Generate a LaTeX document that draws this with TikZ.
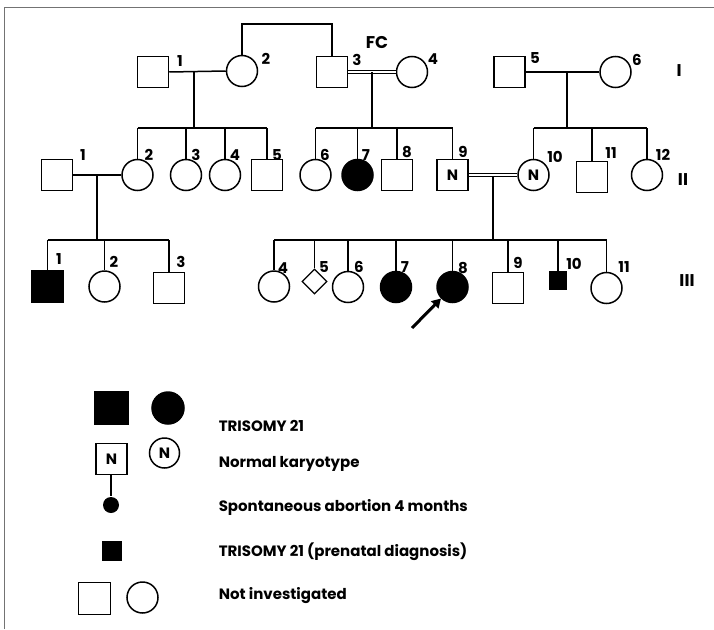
\documentclass[tikz,border=0pt]{standalone}
\usepackage{fontspec}
\setmainfont{Poppins}
\usetikzlibrary{arrows.meta,shapes.geometric}
\begin{document}
\begin{tikzpicture}[x=1pt,y=-1pt,line width=1.5pt,
  sq/.style={draw,rectangle,minimum size=31pt,inner sep=0pt},
  ci/.style={draw,circle,minimum size=31pt,inner sep=0pt},
  aff/.style={fill=black},
  smallsq/.style={draw,fill=black,rectangle,minimum size=17pt,inner sep=0pt},
  dia/.style={draw,diamond,minimum size=25pt,inner sep=0pt,line width=1.2pt},
  nlab/.style={font=\bfseries\fontsize{15}{15}\selectfont},
  lab/.style={font=\bfseries\fontsize{15}{15}\selectfont,inner sep=0pt},
  gen/.style={font=\bfseries\fontsize{17}{17}\selectfont,inner sep=0pt},
  leg/.style={font=\bfseries\fontsize{15}{15}\selectfont,inner sep=0pt,anchor=west},
  dbl/.style={double,double distance=2pt,line width=1pt},
  frame/.style={draw=black!55,line width=1pt},
  pointer/.style={line width=3pt,-{Triangle[length=9pt,width=10pt]}}]
\useasboundingbox (0,0) rectangle (714,629);
\coordinate (fbl) at (4,629);
\coordinate (ftl) at (4,7);
\coordinate (ftr) at (714,7);
\draw[frame] (fbl) -- (ftl) -- (ftr);

% ---------- Generation I
\node[sq] (I1) at (153,72) {};
\node[ci] (I2) at (242,71) {};
\node[sq] (I3) at (332,72) {};
\node[ci] (I4) at (412,72) {};
\node[sq] (I5) at (509.5,72) {};
\node[ci] (I6) at (615.5,72) {};
\node[lab] (tI1) at (180,61) {1};
\node[lab] (tI2) at (266,59) {2};
\node[lab] (tI3) at (357,60) {3};
\node[lab] (tI4) at (433,59) {4};
\node[lab] (tI5) at (535,58) {5};
\node[lab] (tI6) at (637,60) {6};
\node[gen] (FC) at (377,43) {FC};
\node[gen] (gI) at (679,71) {I};
\node[gen] (gII) at (683,180) {II};
\node[gen] (gIII) at (687,281) {III};

\coordinate (sibtop) at (287,24);
\draw (I2.north) -- (I2.north |- sibtop) -- (I3.north |- sibtop) -- (I3.north);

\draw (I1.east) -- (I2.west);
\draw[dbl] (I3.east) -- (I4.west);
\draw (I5.east) -- (I6.west);

% ---------- Generation II
\node[sq] (II1) at (57,175) {};
\node[ci] (II2) at (137.5,175) {};
\node[ci] (II3) at (186,175) {};
\node[ci] (II4) at (225,175) {};
\node[sq] (II5) at (267,175) {};
\node[ci] (II6) at (315.5,175) {};
\node[ci,aff] (II7) at (357.5,175) {};
\node[sq] (II8) at (397,175) {};
\node[sq,nlab] (II9) at (452.5,175) {N};
\node[ci,nlab] (II10) at (533.5,175) {N};
\node[sq] (II11) at (592,177) {};
\node[ci] (II12) at (647,175) {};
\node[lab] (tII1) at (83,155) {1};
\node[lab] (tII2) at (149,155) {2};
\node[lab] (tII3) at (196,155) {3};
\node[lab] (tII4) at (235,155) {4};
\node[lab] (tII5) at (277,155) {5};
\node[lab] (tII6) at (325,155) {6};
\node[lab] (tII7) at (366,155) {7};
\node[lab] (tII8) at (407,152) {8};
\node[lab] (tII9) at (463,152) {9};
\node[lab] (tII10) at (555,157) {10};
\node[lab] (tII11) at (611,153) {11};
\node[lab] (tII12) at (663,155) {12};

% sibships of generation II
\coordinate (mA) at (194,72);
\coordinate (sA) at (194,128);
\draw (mA) -- (sA);
\draw (II2.north |- sA) -- (II5.north |- sA);
\foreach \c in {II2,II3,II4,II5} \draw (\c.north |- sA) -- (\c.north);

\coordinate (mB) at (372,72);
\coordinate (sB) at (372,128);
\draw (mB) -- (sB);
\draw (II6.north |- sB) -- (II9.north |- sB);
\foreach \c in {II6,II7,II8,II9} \draw (\c.north |- sB) -- (\c.north);

\coordinate (mC) at (567,72);
\coordinate (sC) at (567,128);
\draw (mC) -- (sC);
\draw (II10.north |- sC) -- (II12.north |- sC);
\foreach \c in {II10,II11,II12} \draw (\c.north |- sC) -- (\c.north);

\draw (II1.east) -- (II2.west);
\draw[dbl] (II9.east) -- (II10.west);

% ---------- Generation III
\node[sq,aff] (III1) at (47.5,286.5) {};
\node[ci] (III2) at (104.5,286.5) {};
\node[sq] (III3) at (169,288) {};
\node[ci] (III4) at (274,286.5) {};
\node[dia] (III5) at (314.5,281.5) {};
\node[ci] (III6) at (348,287) {};
\node[ci,aff] (III7) at (396,287) {};
\node[ci,aff] (III8) at (452.5,287) {};
\node[sq] (III9) at (508,288) {};
\node[smallsq] (III10) at (558,280.5) {};
\node[ci] (III11) at (606.5,288) {};
\node[lab] (tIII1) at (59,259) {1};
\node[lab] (tIII2) at (114,262) {2};
\node[lab] (tIII3) at (181,262) {3};
\node[lab] (tIII4) at (283,268) {4};
\node[lab] (tIII5) at (324,267) {5};
\node[lab] (tIII6) at (359,267) {6};
\node[lab] (tIII7) at (405,267) {7};
\node[lab] (tIII8) at (463,268) {8};
\node[lab] (tIII9) at (518,263) {9};
\node[lab] (tIII10) at (574,264) {10};
\node[lab] (tIII11) at (624,267) {11};

\coordinate (mD) at (97,175);
\coordinate (sD) at (97,240);
\draw (mD) -- (sD);
\draw (III1.north |- sD) -- (III3.north |- sD);
\foreach \c in {III1,III2,III3} \draw (\c.north |- sD) -- (\c.north);

\coordinate (mE) at (493,176.5);
\coordinate (sE) at (493,240);
\draw (mE) -- (sE);
\draw (III4.north |- sE) -- (III11.north |- sE);
\foreach \c in {III4,III5,III6,III7,III8,III9,III10,III11} \draw (\c.north |- sE) -- (\c.north);

\coordinate (arrtail) at (412,328);
\draw[pointer] (arrtail) -- (III8.225);

% ---------- Legend
\node[sq,aff,minimum size=33pt] (L1a) at (111.5,408) {};
\node[ci,aff,minimum size=32pt] (L1b) at (168,408) {};
\node[leg] (L1t) at (218,426) {TRISOMY 21};
\node[sq,nlab] (L2a) at (111.5,459) {N};
\node[ci,nlab,minimum size=30pt] (L2b) at (164.5,453) {N};
\node[leg] (L2t) at (218,464) {Normal karyotype};
\coordinate (L3top) at (111,475);
\node[circle,fill=black,minimum size=16pt,inner sep=0pt] (L3a) at (111,505) {};
\draw (L3top) -- (L3a);
\node[leg] (L3t) at (218,507) {Spontaneous abortion 4 months};
\node[smallsq,minimum size=18pt] (L4a) at (112,551) {};
\node[leg] (L4t) at (218,552) {TRISOMY 21 (prenatal diagnosis)};
\node[sq,minimum size=32pt] (L5a) at (94.5,598.5) {};
\node[ci] (L5b) at (142.5,597.5) {};
\node[leg] (L5t) at (218,596) {Not investigated};
\end{tikzpicture}
\end{document}
